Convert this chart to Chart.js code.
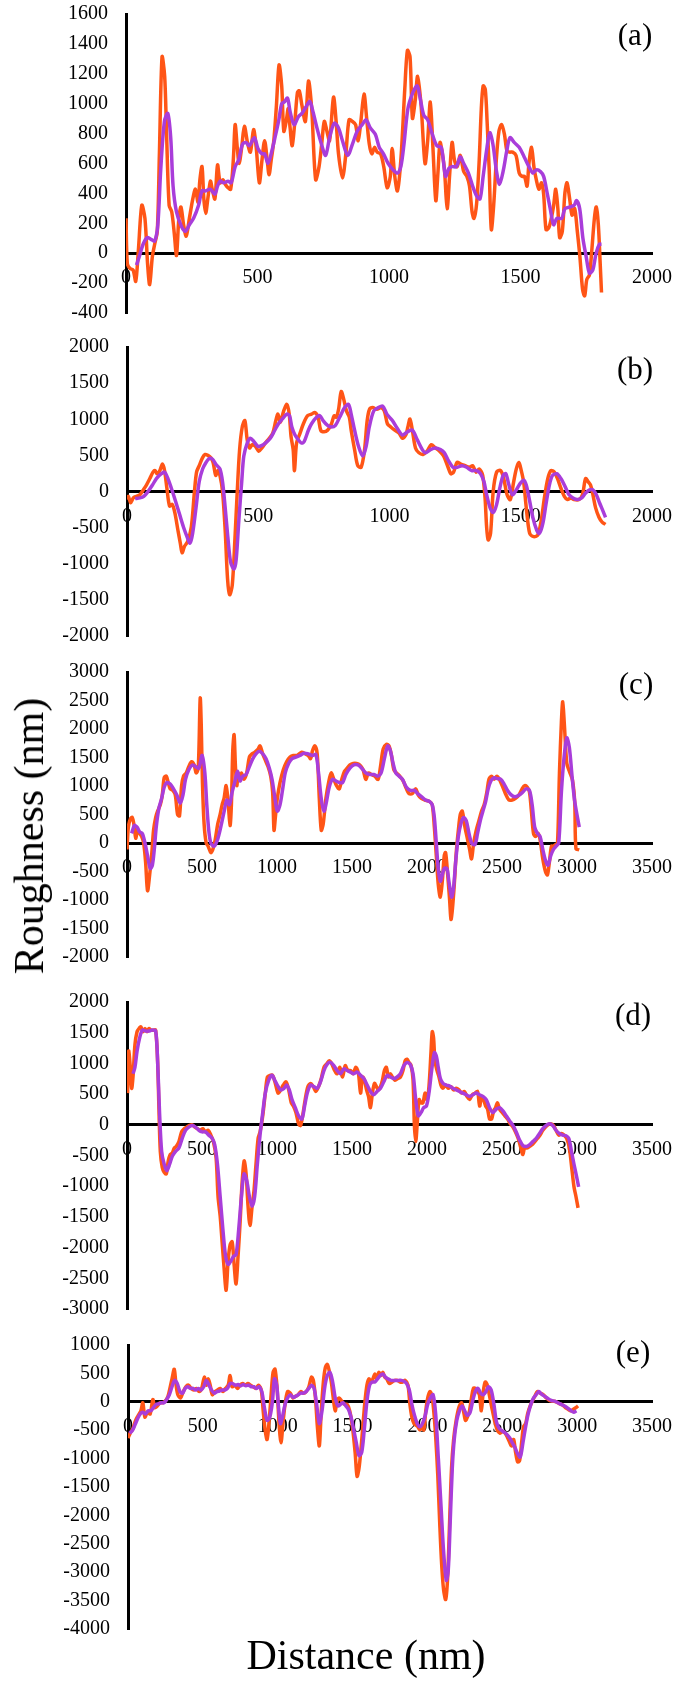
<!DOCTYPE html>
<html><head><meta charset="utf-8">
<script src="https://cdn.jsdelivr.net/npm/chart.js@4.4.1/dist/chart.umd.min.js"></script>
<style>
html,body{margin:0;padding:0;background:#fff;}
body{width:685px;height:1697px;position:relative;overflow:hidden;}
canvas{position:absolute;left:0;}
.lbl{position:absolute;font-family:"Liberation Serif",serif;color:#000;white-space:nowrap;line-height:1;transform:translate(-50%,-50%);}
</style></head><body>
<script>
// ---------- DATA : [distance (nm), roughness (nm)] ----------
const aOrange = [[0,233],[5,-69],[15,-102],[27,-112],[37,-188],[47,17],[60,320],[72,233],[82,-69],[90,-210],[100,-26],[109,60],[119,147],[127,665],[137,1313],[147,1184],[154,816],[164,320],[174,276],[184,125],[192,-15],[201,233],[209,309],[219,190],[229,114],[241,233],[254,363],[264,428],[274,341],[281,492],[289,579],[296,363],[303,266],[311,363],[321,482],[328,428],[338,363],[348,590],[358,471],[368,492],[378,460],[388,438],[398,428],[408,622],[415,860],[423,708],[430,600],[440,708],[450,849],[463,730],[473,676],[485,827],[495,708],[507,471],[517,622],[527,752],[537,622],[544,525],[552,622],[562,752],[572,989],[582,1259],[592,1119],[600,816],[609,881],[617,968],[624,838],[632,719],[642,881],[652,1076],[659,1086],[669,989],[682,881],[694,1151],[706,968],[721,492],[734,579],[744,730],[754,881],[764,816],[774,752],[789,1043],[799,881],[808,665],[823,503],[836,665],[848,892],[861,881],[873,860],[883,752],[893,881],[905,1065],[915,903],[925,730],[935,665],[945,708],[955,676],[968,665],[980,579],[993,438],[1005,514],[1012,700],[1022,514],[1032,417],[1045,622],[1060,1097],[1070,1356],[1080,1313],[1089,903],[1099,1011],[1109,1184],[1122,989],[1137,600],[1147,752],[1157,1011],[1167,708],[1178,352],[1186,536],[1194,741],[1203,665],[1211,557],[1221,298],[1231,536],[1240,741],[1249,622],[1259,579],[1271,654],[1284,546],[1296,514],[1306,449],[1316,276],[1323,233],[1333,330],[1343,622],[1351,968],[1358,1119],[1366,1097],[1373,881],[1381,557],[1389,158],[1398,320],[1408,622],[1418,816],[1428,860],[1439,795],[1448,687],[1458,676],[1470,676],[1483,654],[1495,536],[1505,514],[1515,514],[1525,449],[1532,600],[1542,708],[1551,579],[1560,492],[1570,428],[1580,471],[1588,395],[1597,158],[1607,168],[1617,233],[1626,320],[1634,428],[1642,298],[1649,104],[1659,147],[1669,406],[1677,471],[1687,363],[1696,255],[1706,298],[1716,147],[1726,-26],[1736,-242],[1744,-285],[1752,-177],[1762,-145],[1771,17],[1781,233],[1788,309],[1796,190],[1803,-69],[1808,-263]];
const aPurple = [[40,-80],[50,-26],[65,60],[80,104],[95,93],[109,82],[121,190],[132,557],[146,881],[159,935],[170,773],[179,449],[192,276],[211,179],[226,147],[241,190],[257,233],[276,320],[289,417],[303,417],[320,428],[338,395],[348,449],[358,482],[371,471],[388,482],[400,471],[415,579],[428,622],[443,730],[456,741],[469,719],[488,773],[502,698],[517,665],[527,665],[540,600],[552,665],[565,762],[580,881],[592,1000],[602,1011],[614,1037],[624,946],[639,860],[656,914],[669,935],[684,978],[699,1015],[711,946],[726,838],[743,730],[759,654],[774,773],[792,870],[808,838],[823,752],[843,654],[861,730],[879,816],[898,860],[913,892],[929,838],[948,795],[963,708],[979,665],[997,600],[1016,557],[1032,536],[1045,579],[1057,730],[1072,968],[1091,1076],[1107,1119],[1119,1032],[1132,924],[1147,892],[1165,795],[1182,719],[1199,708],[1215,514],[1228,568],[1240,579],[1256,579],[1271,644],[1284,600],[1302,536],[1318,449],[1333,384],[1346,363],[1358,514],[1371,687],[1383,806],[1395,730],[1408,557],[1420,460],[1435,557],[1448,687],[1460,773],[1476,741],[1495,708],[1514,644],[1532,579],[1547,536],[1560,557],[1576,546],[1588,514],[1601,406],[1613,298],[1626,190],[1638,233],[1657,233],[1669,298],[1688,309],[1704,320],[1713,352],[1725,298],[1737,104],[1750,-26],[1762,-134],[1775,-112],[1787,-4],[1800,60],[1808,60]];

const bOrange = [[0,-110],[5,-67],[14,-156],[24,-89],[36,-67],[49,-45],[62,22],[74,89],[87,179],[99,268],[107,290],[114,246],[125,290],[135,379],[143,290],[152,45],[162,-201],[172,-179],[182,-290],[194,-536],[203,-714],[210,-848],[219,-759],[231,-692],[245,-491],[257,0],[265,268],[275,357],[288,469],[298,513],[308,500],[319,469],[328,402],[338,223],[346,290],[354,223],[364,0],[374,-536],[383,-1205],[391,-1429],[401,-1295],[411,-670],[420,0],[429,580],[439,893],[449,982],[458,714],[467,603],[477,647],[489,625],[502,558],[514,603],[527,670],[542,737],[555,804],[567,982],[575,1071],[584,960],[597,1116],[609,1205],[618,1071],[625,759],[633,580],[638,290],[646,670],[659,804],[672,938],[688,1049],[703,1071],[716,1094],[728,1027],[738,848],[751,826],[764,848],[779,938],[789,1049],[797,1027],[806,1138],[816,1384],[826,1272],[836,1116],[847,1027],[854,848],[867,580],[879,357],[892,335],[905,580],[915,982],[924,1138],[936,1161],[952,1138],[967,1161],[980,1116],[992,938],[1005,893],[1020,848],[1037,804],[1049,737],[1062,781],[1070,893],[1078,1004],[1087,848],[1099,603],[1112,536],[1128,513],[1143,558],[1159,647],[1175,603],[1191,558],[1206,491],[1221,357],[1234,246],[1244,268],[1257,402],[1272,379],[1288,357],[1304,335],[1317,357],[1330,268],[1342,312],[1355,223],[1364,-89],[1370,-491],[1376,-670],[1385,-580],[1395,0],[1408,268],[1423,290],[1435,179],[1448,-45],[1460,-112],[1473,134],[1483,312],[1493,402],[1502,290],[1511,134],[1521,-223],[1534,-580],[1549,-625],[1565,-603],[1578,-402],[1590,-89],[1603,179],[1615,290],[1628,268],[1640,179],[1653,45],[1666,-67],[1678,-112],[1691,-89],[1703,-112],[1722,-112],[1735,-45],[1747,179],[1757,134],[1766,89],[1775,-45],[1785,-223],[1798,-357],[1810,-424],[1823,-455]];
const bPurple = [[31,-98],[49,-89],[64,-67],[80,0],[97,89],[112,179],[131,246],[143,268],[156,179],[169,45],[185,-134],[200,-313],[215,-491],[231,-647],[240,-714],[250,-580],[263,-223],[275,134],[288,312],[301,402],[313,455],[326,446],[338,379],[354,312],[364,134],[374,-223],[384,-625],[395,-982],[408,-1071],[416,-938],[426,-402],[437,134],[445,491],[458,670],[470,737],[483,692],[499,625],[512,634],[527,670],[546,737],[563,848],[577,938],[592,1004],[609,1071],[619,1049],[628,893],[640,781],[653,714],[665,670],[675,692],[691,848],[703,938],[722,1027],[735,1049],[747,982],[764,915],[779,893],[794,915],[810,1027],[829,1161],[844,1205],[854,1071],[867,848],[882,625],[898,491],[911,625],[923,893],[940,1116],[957,1161],[974,1183],[990,1071],[1011,982],[1030,871],[1049,781],[1068,826],[1087,848],[1106,714],[1125,580],[1137,536],[1156,580],[1175,603],[1194,580],[1209,536],[1225,424],[1242,335],[1259,335],[1276,357],[1294,335],[1313,290],[1332,290],[1347,246],[1360,134],[1370,-45],[1383,-223],[1395,-290],[1408,-179],[1420,45],[1433,223],[1443,246],[1455,89],[1468,-45],[1483,22],[1498,112],[1511,156],[1521,89],[1534,-134],[1546,-357],[1561,-536],[1571,-580],[1584,-446],[1596,-179],[1609,89],[1621,223],[1637,246],[1653,179],[1669,67],[1684,-45],[1699,-89],[1716,-112],[1732,-89],[1747,-22],[1762,22],[1775,22],[1788,-45],[1800,-156],[1813,-268],[1823,-357]];

const cOrange = [[0,-112],[9,279],[22,419],[35,447],[49,279],[58,84],[71,223],[84,168],[98,112],[111,0],[124,-335],[137,-838],[151,-559],[164,-223],[177,223],[191,447],[204,559],[222,670],[235,838],[248,1145],[262,1173],[275,1061],[288,950],[306,922],[322,838],[337,503],[350,475],[364,1006],[377,1173],[395,1229],[412,1341],[430,1425],[448,1369],[461,1229],[475,1313],[488,2540],[495,2067],[503,1061],[514,335],[528,0],[541,-56],[559,-168],[572,-112],[588,56],[605,335],[621,503],[634,670],[647,782],[661,1006],[674,726],[687,307],[696,670],[705,1620],[714,1899],[723,1341],[732,1006],[741,1229],[749,1117],[763,1229],[780,1117],[798,1229],[816,1508],[834,1564],[851,1592],[874,1648],[887,1704],[905,1564],[922,1453],[940,1341],[958,1173],[971,894],[980,223],[989,447],[1002,782],[1020,1061],[1042,1285],[1064,1425],[1087,1508],[1109,1536],[1135,1536],[1164,1592],[1189,1564],[1208,1536],[1224,1480],[1237,1620],[1253,1704],[1268,1564],[1282,782],[1295,223],[1308,335],[1326,782],[1344,1061],[1361,1229],[1379,1117],[1397,1006],[1415,950],[1432,1117],[1450,1257],[1468,1313],[1486,1369],[1508,1397],[1530,1397],[1552,1369],[1574,1285],[1592,1117],[1610,1229],[1630,1201],[1652,1173],[1674,1117],[1690,1341],[1708,1648],[1730,1732],[1747,1704],[1763,1536],[1779,1285],[1796,1229],[1818,1173],[1841,1089],[1863,950],[1880,866],[1902,866],[1925,950],[1942,838],[1962,782],[1985,754],[2018,726],[2035,670],[2049,279],[2062,-223],[2075,-726],[2089,-950],[2102,-670],[2115,-223],[2124,-168],[2138,-559],[2151,-1006],[2160,-1341],[2169,-1173],[2182,-726],[2195,-168],[2209,223],[2222,503],[2235,559],[2253,279],[2271,56],[2284,-112],[2297,-279],[2311,0],[2328,223],[2346,391],[2364,559],[2381,670],[2399,894],[2413,1117],[2430,1173],[2448,1117],[2466,1173],[2483,1117],[2501,1006],[2523,866],[2546,754],[2568,754],[2590,782],[2612,838],[2634,950],[2651,1006],[2669,978],[2683,894],[2696,559],[2710,168],[2723,112],[2741,168],[2754,56],[2772,-279],[2790,-503],[2803,-559],[2816,-335],[2830,-56],[2843,-56],[2857,-28],[2870,0],[2883,1229],[2896,2123],[2905,2480],[2916,2067],[2932,1400],[2950,1250],[2970,1100],[2985,700],[2993,-100],[3015,-120]];
const cPurple = [[31,168],[49,307],[67,279],[84,196],[102,168],[120,0],[137,-223],[155,-447],[169,-391],[182,-112],[195,279],[213,615],[231,782],[248,978],[266,1061],[288,1034],[310,950],[333,838],[355,698],[373,838],[390,1117],[412,1285],[435,1369],[457,1341],[479,1313],[501,1536],[519,1229],[532,670],[545,223],[559,0],[581,-56],[603,56],[625,279],[648,559],[665,754],[683,670],[701,894],[718,1061],[736,1257],[754,1089],[772,1173],[794,1201],[816,1341],[839,1480],[860,1564],[882,1609],[905,1564],[927,1480],[949,1313],[967,1117],[985,810],[1002,559],[1020,670],[1038,950],[1055,1229],[1078,1397],[1100,1480],[1126,1508],[1153,1536],[1180,1575],[1208,1564],[1237,1536],[1259,1553],[1277,1229],[1295,782],[1313,559],[1330,726],[1348,978],[1370,1117],[1392,1089],[1415,1061],[1437,1061],[1459,1201],[1486,1313],[1512,1369],[1539,1369],[1565,1313],[1592,1229],[1619,1201],[1645,1201],[1672,1173],[1694,1229],[1716,1480],[1738,1704],[1756,1620],[1774,1397],[1792,1229],[1814,1173],[1836,1117],[1863,978],[1889,922],[1916,922],[1938,866],[1965,810],[1991,754],[2018,726],[2035,670],[2049,447],[2062,0],[2075,-447],[2089,-670],[2102,-559],[2115,-447],[2133,-447],[2146,-670],[2164,-950],[2177,-782],[2191,-335],[2209,112],[2226,335],[2244,447],[2262,391],[2280,168],[2297,0],[2320,-28],[2337,168],[2355,391],[2373,559],[2391,726],[2408,950],[2426,1089],[2448,1145],[2470,1128],[2492,1117],[2514,1034],[2537,922],[2559,849],[2585,810],[2612,838],[2639,894],[2661,950],[2683,922],[2701,670],[2718,279],[2736,168],[2754,112],[2772,-112],[2790,-307],[2807,-391],[2825,-223],[2843,-112],[2861,-56],[2878,0],[2896,894],[2914,1508],[2932,1844],[2949,1676],[2967,1173],[2985,726],[3015,279]];

const dOrange = [[4,516],[11,1200],[22,937],[31,595],[40,779],[53,1305],[67,1516],[80,1568],[93,1595],[106,1516],[120,1568],[133,1516],[146,1568],[160,1542],[177,1542],[191,1542],[204,1042],[213,253],[222,-432],[235,-695],[248,-774],[262,-800],[275,-589],[288,-484],[302,-458],[315,-379],[328,-353],[346,-274],[364,-116],[381,-63],[399,-37],[417,-11],[435,0],[452,-37],[470,-63],[488,-89],[506,-63],[523,-116],[541,-89],[559,-168],[576,-274],[594,-537],[607,-1168],[621,-1484],[634,-1905],[647,-2326],[661,-2695],[674,-2221],[687,-1958],[701,-1905],[714,-2274],[727,-2589],[741,-2116],[754,-1589],[767,-958],[781,-589],[794,-800],[807,-1326],[820,-1642],[834,-1326],[847,-1063],[860,-642],[874,-221],[887,-116],[905,147],[922,516],[936,779],[953,805],[971,805],[989,674],[1007,516],[1024,568],[1042,647],[1060,700],[1078,568],[1095,358],[1109,305],[1126,200],[1144,16],[1157,-11],[1171,147],[1188,411],[1206,621],[1224,674],[1242,621],[1259,542],[1277,621],[1295,753],[1313,937],[1330,989],[1348,1042],[1366,989],[1384,884],[1401,832],[1419,937],[1437,779],[1455,963],[1472,884],[1490,884],[1508,832],[1525,937],[1543,832],[1557,516],[1570,779],[1583,726],[1597,568],[1610,463],[1623,279],[1636,516],[1650,674],[1663,621],[1676,568],[1690,621],[1703,726],[1716,884],[1729,937],[1743,779],[1756,832],[1769,779],[1787,726],[1805,753],[1823,779],[1840,884],[1854,1042],[1867,1068],[1880,1016],[1894,963],[1907,726],[1916,-11],[1925,-274],[1934,-11],[1947,411],[1960,358],[1973,358],[1987,516],[2000,411],[2013,621],[2027,1200],[2035,1516],[2044,1411],[2053,1042],[2067,884],[2080,779],[2093,647],[2107,595],[2124,647],[2142,595],[2160,621],[2178,568],[2195,595],[2213,568],[2231,516],[2249,542],[2266,463],[2284,411],[2302,489],[2320,516],[2337,542],[2351,305],[2364,463],[2377,411],[2391,305],[2404,253],[2417,95],[2431,95],[2444,226],[2457,279],[2470,358],[2484,253],[2501,200],[2519,147],[2537,95],[2555,16],[2573,-37],[2590,-116],[2608,-221],[2626,-379],[2639,-484],[2652,-353],[2666,-379],[2683,-353],[2701,-326],[2719,-274],[2736,-221],[2754,-168],[2772,-89],[2790,-37],[2807,0],[2825,16],[2843,-11],[2860,-89],[2878,-168],[2896,-142],[2914,-168],[2931,-221],[2949,-379],[2967,-747],[2980,-1011],[2993,-1168],[3007,-1353]];
const dPurple = [[40,832],[53,937],[67,1200],[84,1411],[102,1542],[124,1526],[146,1526],[168,1542],[191,1526],[204,1042],[217,200],[231,-432],[248,-642],[266,-747],[284,-642],[302,-511],[324,-432],[346,-379],[368,-221],[390,-89],[412,-37],[435,-11],[457,-37],[479,-89],[501,-116],[523,-116],[545,-168],[568,-221],[585,-326],[603,-642],[621,-1168],[639,-1695],[656,-2116],[674,-2274],[692,-2221],[710,-2142],[727,-2116],[745,-1695],[763,-1168],[780,-800],[798,-905],[816,-1168],[834,-1326],[851,-1168],[869,-642],[887,-168],[905,200],[922,516],[945,726],[967,805],[985,726],[1002,647],[1024,568],[1047,595],[1064,647],[1082,568],[1100,411],[1122,279],[1144,147],[1166,95],[1184,305],[1202,516],[1224,647],[1246,621],[1268,595],[1290,700],[1313,884],[1335,989],[1357,1016],[1379,963],[1401,884],[1424,832],[1446,911],[1468,884],[1490,858],[1512,832],[1535,858],[1557,805],[1579,753],[1601,647],[1623,542],[1645,489],[1667,542],[1690,595],[1712,700],[1734,805],[1756,779],[1779,753],[1801,779],[1823,832],[1845,963],[1867,1016],[1889,979],[1907,832],[1925,411],[1942,147],[1960,200],[1978,279],[1996,305],[2013,516],[2031,884],[2049,1174],[2062,1121],[2075,937],[2089,753],[2107,674],[2129,647],[2151,632],[2173,595],[2195,568],[2217,542],[2239,516],[2262,489],[2284,463],[2306,489],[2328,516],[2350,489],[2373,463],[2395,411],[2417,279],[2439,200],[2461,253],[2484,279],[2506,226],[2528,147],[2550,68],[2573,-11],[2595,-116],[2617,-247],[2639,-337],[2661,-353],[2683,-326],[2705,-274],[2728,-221],[2750,-142],[2772,-63],[2794,-11],[2816,16],[2838,-11],[2860,-89],[2882,-142],[2905,-168],[2927,-179],[2945,-221],[2963,-432],[2980,-642],[2998,-853],[3011,-1011]];

const eOrange = [[0,-636],[15,-552],[33,-467],[51,-327],[68,-242],[86,-158],[99,-17],[113,-270],[130,-186],[148,-214],[166,39],[179,-101],[196,-73],[214,-17],[232,-17],[249,11],[267,96],[280,236],[294,405],[309,574],[320,321],[333,124],[351,68],[369,180],[386,265],[404,293],[422,236],[439,208],[457,236],[475,180],[492,236],[510,434],[523,293],[536,405],[549,293],[563,124],[581,180],[598,208],[616,236],[634,180],[651,236],[669,293],[682,462],[695,265],[713,293],[731,236],[748,293],[766,321],[784,293],[801,321],[819,293],[837,265],[854,236],[872,293],[890,208],[903,-158],[916,-495],[929,-664],[943,-327],[956,124],[969,518],[982,574],[996,236],[1009,-383],[1022,-721],[1035,-383],[1049,-45],[1066,180],[1084,152],[1102,68],[1119,96],[1137,124],[1154,180],[1172,152],[1190,180],[1208,265],[1225,434],[1238,377],[1252,68],[1265,-439],[1278,-777],[1291,-158],[1305,349],[1318,602],[1331,659],[1344,546],[1358,349],[1371,68],[1384,-158],[1397,11],[1411,68],[1428,11],[1446,-45],[1464,-45],[1481,-158],[1499,-439],[1517,-890],[1530,-1312],[1543,-1171],[1556,-833],[1570,-383],[1583,11],[1596,293],[1609,405],[1623,349],[1636,405],[1649,490],[1662,405],[1675,518],[1689,462],[1702,518],[1715,434],[1728,405],[1746,321],[1764,349],[1781,377],[1799,377],[1817,349],[1834,349],[1852,377],[1870,293],[1883,-45],[1896,-270],[1910,-383],[1923,-411],[1936,-439],[1949,-495],[1962,-439],[1976,-495],[1989,-158],[2002,68],[2016,180],[2029,124],[2042,-158],[2055,-608],[2069,-1284],[2082,-2128],[2095,-2860],[2108,-3311],[2122,-3480],[2135,-3086],[2148,-2128],[2161,-1171],[2175,-664],[2192,-327],[2210,-101],[2228,-17],[2241,-158],[2254,-327],[2267,-270],[2281,-158],[2294,68],[2307,236],[2320,236],[2334,180],[2347,124],[2360,-158],[2373,180],[2386,349],[2400,293],[2413,124],[2430,-101],[2448,-327],[2466,-495],[2483,-552],[2501,-524],[2519,-552],[2536,-636],[2550,-721],[2563,-777],[2576,-664],[2589,-890],[2603,-1059],[2616,-1030],[2629,-721],[2642,-439],[2656,-383],[2669,-214],[2682,-101],[2700,11],[2717,96],[2735,180],[2753,152],[2775,124],[2794,68],[2815,23],[2837,11],[2859,0],[2881,-34],[2903,-56],[2921,-101],[2939,-130],[2957,-158],[2975,-130],[2993,-101],[3006,-73]];
const ePurple = [[11,-552],[29,-507],[46,-411],[64,-298],[82,-214],[99,-186],[117,-214],[135,-158],[152,-158],[170,-101],[188,-45],[205,-34],[223,-17],[241,-17],[258,39],[276,124],[294,265],[311,377],[329,321],[347,180],[364,152],[382,236],[400,265],[417,236],[435,236],[453,208],[470,236],[488,208],[506,265],[523,377],[541,293],[558,208],[576,152],[594,180],[611,191],[629,208],[647,208],[664,236],[682,321],[700,321],[717,293],[735,304],[753,282],[770,304],[788,282],[806,293],[823,265],[841,265],[859,236],[876,265],[894,180],[911,-101],[929,-327],[947,-270],[965,11],[978,405],[993,293],[1004,-45],[1018,-383],[1031,-270],[1049,-45],[1066,68],[1084,124],[1102,79],[1119,96],[1137,124],[1154,152],[1172,152],[1190,180],[1208,236],[1225,293],[1243,236],[1260,-45],[1278,-383],[1296,-158],[1313,236],[1331,462],[1349,518],[1367,349],[1384,68],[1402,-73],[1420,-45],[1437,-17],[1455,-73],[1472,-130],[1490,-270],[1508,-495],[1525,-721],[1543,-946],[1561,-890],[1578,-495],[1596,11],[1614,293],[1631,349],[1649,349],[1667,405],[1684,462],[1702,490],[1720,434],[1737,405],[1755,377],[1773,377],[1790,377],[1808,377],[1826,377],[1843,360],[1861,321],[1879,208],[1896,-45],[1914,-242],[1932,-383],[1949,-439],[1967,-383],[1985,-242],[2002,-45],[2020,68],[2038,124],[2055,-214],[2073,-1002],[2091,-1847],[2108,-2635],[2126,-3142],[2139,-2973],[2152,-2128],[2166,-1171],[2179,-664],[2196,-327],[2214,-158],[2232,-73],[2249,-158],[2267,-242],[2285,-186],[2302,11],[2320,180],[2338,236],[2355,152],[2373,124],[2391,180],[2408,265],[2426,208],[2444,-45],[2461,-355],[2479,-467],[2497,-507],[2515,-540],[2532,-580],[2550,-636],[2567,-721],[2585,-805],[2603,-918],[2620,-974],[2638,-721],[2656,-439],[2673,-214],[2691,-45],[2709,68],[2726,124],[2744,180],[2762,135],[2784,96],[2806,56],[2828,23],[2850,11],[2872,-17],[2894,-45],[2916,-73],[2938,-113],[2960,-158],[2977,-186],[2995,-158]];

const panelLetters = ['(a)','(b)','(c)','(d)','(e)'];
const xMaxes = [2000, 2000, 3500, 3500, 3500];
const yMins  = [-400, -2000, -2000, -3000, -4000];
const yMaxes = [1600, 2000, 3000, 2000, 1000];
const ySteps = [200, 500, 500, 500, 500];
const xStep = 500;
const orangeSeries = [aOrange, bOrange, cOrange, dOrange, eOrange];
const purpleSeries = [aPurple, bPurple, cPurple, dPurple, ePurple];

// ---------- LAYOUT (pixels) ----------
const boxes = [
  {left:126, right:662, top:9,    bottom:318,  lx:635, ly:34},
  {left:127, right:658, top:342,  bottom:641,  lx:635, ly:368},
  {left:127, right:653, top:667,  bottom:962,  lx:636, ly:683},
  {left:127, right:654, top:997,  bottom:1314, lx:633, ly:1014},
  {left:128, right:656, top:1340, bottom:1634, lx:633, ly:1351}
];
const ORANGE = '#FF5516', PURPLE = '#A93DDA';
const tickFont = {family:'"Liberation Serif", serif', size:20};
const PAD = 25;

boxes.forEach((b, i) => {
  const c = document.createElement('canvas');
  const H = b.bottom - b.top + 2*PAD;
  c.width = 685; c.height = H;
  c.style.top = (b.top - PAD) + 'px';
  document.body.appendChild(c);
  new Chart(c, {
    type: 'line',
    data: {
      datasets: [
        {data: purpleSeries[i].map(([x,y]) => ({x, y})), borderColor: PURPLE, borderWidth: 3.5, pointRadius: 0, tension: 0.3, fill: false},
        {data: orangeSeries[i].map(([x,y]) => ({x, y})), borderColor: ORANGE, borderWidth: 3.5, pointRadius: 0, tension: 0.3, fill: false}
      ]
    },
    options: {
      responsive: false, animation: false, devicePixelRatio: 1,
      layout: {padding: {top: PAD, bottom: PAD, left: 0, right: 685 - b.right}},
      plugins: {legend: {display: false}, tooltip: {enabled: false}},
      scales: {
        x: {
          type: 'linear', min: 0, max: xMaxes[i], position: {y: 0},
          grid: {display: false, drawTicks: false},
          border: {display: true, color: '#000', width: 3},
          ticks: {stepSize: xStep, autoSkip: false, maxRotation: 0, minRotation: 0, color: '#000', font: tickFont, padding: 13, callback: v => String(v)}
        },
        y: {
          type: 'linear', min: yMins[i], max: yMaxes[i], position: 'left',
          afterFit: s => { s.width = b.left; },
          grid: {display: false, drawTicks: false},
          border: {display: true, color: '#000', width: 3},
          ticks: {stepSize: ySteps[i], autoSkip: false, color: '#000', font: tickFont, padding: 18, callback: v => String(v)}
        }
      }
    }
  });
  const d = document.createElement('div');
  d.className = 'lbl';
  d.style.left = b.lx + 'px'; d.style.top = b.ly + 'px'; d.style.fontSize = '31px';
  d.textContent = panelLetters[i];
  document.body.appendChild(d);
});

const yt = document.createElement('div');
yt.className = 'lbl';
yt.style.left = '29px'; yt.style.top = '836px'; yt.style.fontSize = '42px';
yt.style.transform = 'translate(-50%,-50%) rotate(-90deg)';
yt.textContent = 'Roughness (nm)';
document.body.appendChild(yt);

const xt = document.createElement('div');
xt.className = 'lbl';
xt.style.left = '366px'; xt.style.top = '1655px'; xt.style.fontSize = '42px';
xt.textContent = 'Distance (nm)';
document.body.appendChild(xt);
</script>
</body></html>
